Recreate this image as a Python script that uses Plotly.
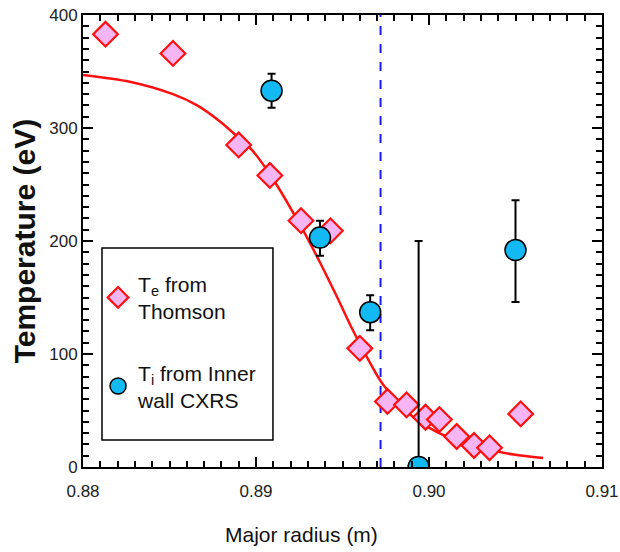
import plotly.graph_objects as go

# Electron temperature from Thomson scattering
te_r = [0.8813, 0.8852, 0.8890, 0.8908, 0.8926, 0.8943, 0.8960, 0.8976,
        0.8987, 0.8998, 0.9006, 0.9016, 0.9026, 0.9035, 0.9053]
te_val = [383, 366, 285, 258, 218, 209, 105, 58, 55, 44, 42, 27, 19, 17, 47]

# Ion temperature from inner-wall CXRS, with asymmetric error bars
ti_r = [0.8909, 0.8937, 0.8966, 0.8994, 0.9050]
ti_val = [333, 203, 137, 0, 192]
ti_err_plus = [15, 15, 15, 200, 44]
ti_err_minus = [15, 16, 16, 0, 46]

# Fitted Te profile
fit_r = [0.8800, 0.8827, 0.8852, 0.8866, 0.8879, 0.8891, 0.8898, 0.8911,
         0.8927, 0.8937, 0.8947, 0.8956, 0.8966, 0.8973, 0.8991, 0.9010,
         0.9030, 0.9049, 0.9066]
fit_val = [347, 341, 330, 320, 306, 290, 280, 252, 210, 181, 150, 121, 92,
           74, 44, 27, 17, 11, 8]

# Separatrix position
sep_r = 0.8972

x_ticks = [0.88, 0.89, 0.90, 0.91]
x_ticklabels = ["0.88", "0.89", "0.90", "0.91"]
y_ticks = [0, 100, 200, 300, 400]

SANS = "Liberation Sans, Arial, sans-serif"

fig = go.Figure()

fig.add_trace(go.Scatter(
    x=fit_r, y=fit_val, mode="lines",
    line=dict(color="#ff1010", width=2.5, shape="spline", smoothing=0.8),
    showlegend=False, hoverinfo="skip"))

fig.add_trace(go.Scatter(
    x=te_r, y=te_val, mode="markers", name="T<sub>e</sub> from<br>Thomson",
    legendgroup="te",
    marker=dict(symbol="diamond", size=19, color="#f7b5f3",
                line=dict(color="#ff1010", width=2.2))))

fig.add_trace(go.Scatter(
    x=ti_r, y=ti_val, mode="markers", name="T<sub>i</sub> from Inner<br>wall CXRS",
    legendgroup="ti",
    error_y=dict(type="data", array=ti_err_plus, arrayminus=ti_err_minus,
                 color="black", thickness=2, width=4),
    marker=dict(symbol="circle", size=21, color="#12b9f2",
                line=dict(color="black", width=1.5))))

fig.add_shape(type="line", x0=sep_r, x1=sep_r, y0=0, y1=400, xref="x", yref="y",
              line=dict(color="#1a1aff", width=2, dash="dash"), layer="below")

# Frame around the legend
fig.add_shape(type="rect", xref="paper", yref="paper",
              x0=0.0366, x1=0.366, y0=0.0597, y1=0.4845,
              line=dict(color="black", width=1.5), fillcolor="white", layer="below")

axis_common = dict(
    showline=True, linecolor="black", linewidth=2, mirror="allticks",
    ticks="inside", ticklen=10, tickwidth=2, tickcolor="black",
    showgrid=False, zeroline=False, automargin=False,
    tickfont=dict(family=SANS, size=17, color="#222"),
)

fig.update_xaxes(
    range=[0.88, 0.91], tickvals=x_ticks, ticktext=x_ticklabels,
    ticklabelstandoff=8,
    minor=dict(ticks="inside", ticklen=6, tickwidth=1.5, tickcolor="black", dtick=0.001),
    **axis_common)
fig.update_yaxes(
    range=[0, 400], tickvals=y_ticks,
    minor=dict(ticks="inside", ticklen=6, tickwidth=1.5, tickcolor="black", dtick=10),
    **axis_common)

fig.add_annotation(text="Major radius (m)", xref="paper", yref="paper",
                   x=(301 - 83) / 519, y=-0.15, xanchor="center", yanchor="middle",
                   showarrow=False, font=dict(family=SANS, size=21, color="#111"))
fig.add_annotation(text="<b>Temperature (eV)</b>", xref="paper", yref="paper",
                   x=-0.113, y=0.5, xanchor="center", yanchor="middle", textangle=-90,
                   showarrow=False, font=dict(family=SANS, size=30, color="#111"))

fig.update_layout(
    width=620, height=552,
    margin=dict(l=83, r=18, t=15, b=85, autoexpand=False),
    plot_bgcolor="white", paper_bgcolor="white",
    showlegend=True,
    legend=dict(x=0.029, y=0.45, xanchor="left", yanchor="top",
                borderwidth=0, bgcolor="rgba(0,0,0,0)",
                font=dict(family=SANS, size=21, color="#111"),
                tracegroupgap=31, itemsizing="trace"),
)

fig.write_html("out.html")
